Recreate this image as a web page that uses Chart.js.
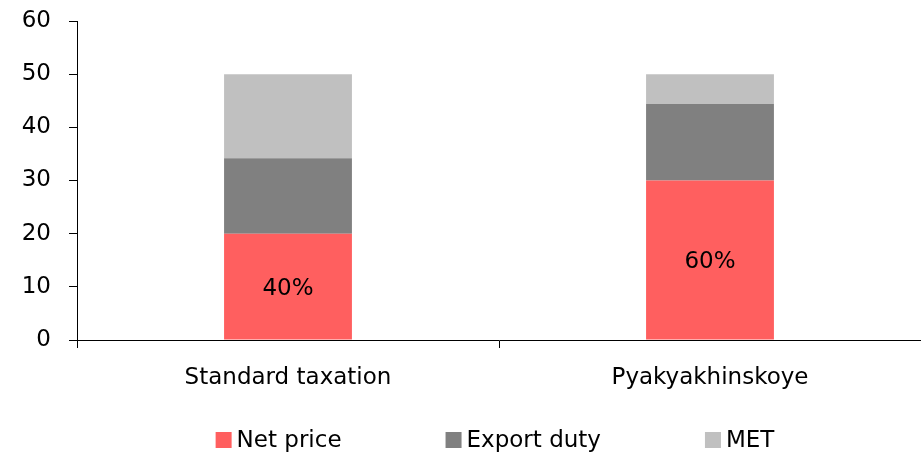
<!DOCTYPE html>
<html>
<head>
<meta charset="utf-8">
<script src="https://cdn.jsdelivr.net/npm/chart.js@4"></script>
<style>
  html, body { margin: 0; padding: 0; background: #fff; }
  #wrap { width: 921px; height: 454px; }
</style>
</head>
<body>
<div id="wrap"><canvas id="chart"></canvas></div>
<script>
const categories = ['Standard taxation', 'Pyakyakhinskoye'];
const netPrice = [20, 30];
const exportDuty = [14.2, 14.4];
const met = [15.8, 5.6];
const shareLabels = ['40%', '60%'];
const yTicks = [0, 10, 20, 30, 40, 50, 60];

const FONT = 'DejaVu Sans';

// percentage text in the middle of the net price segment
const shareLabelPlugin = {
    id: 'shareLabels',
    afterDatasetsDraw(chart) {
        const ctx = chart.ctx;
        const meta = chart.getDatasetMeta(0);
        ctx.save();
        ctx.font = '23px "' + FONT + '"';
        ctx.fillStyle = '#000';
        ctx.textAlign = 'center';
        ctx.textBaseline = 'middle';
        meta.data.forEach((bar, i) => {
            ctx.fillText(shareLabels[i], bar.x, (bar.y + bar.base) / 2 + 2);
        });
        ctx.restore();
    }
};

// legend with wide, even gaps like the original
const wideLegendPlugin = {
    id: 'wideLegend',
    afterDraw(chart) {
        const ctx = chart.ctx;
        const box = 16, gap = 5, spacing = 104;
        const y = 440;
        ctx.save();
        ctx.font = '23px "' + FONT + '"';
        const items = chart.data.datasets.map(ds => ({
            text: ds.label,
            color: ds.backgroundColor,
            w: box + gap + ctx.measureText(ds.label).width
        }));
        const total = items.reduce((s, it) => s + it.w, 0) + spacing * (items.length - 1);
        let x = 495 - total / 2;
        ctx.textBaseline = 'middle';
        ctx.textAlign = 'left';
        items.forEach(it => {
            ctx.fillStyle = it.color;
            ctx.fillRect(x, y - box / 2, box, box);
            ctx.fillStyle = '#000';
            ctx.fillText(it.text, x + box + gap, y + 1);
            x += it.w + spacing;
        });
        ctx.restore();
    }
};

const ctx = document.getElementById('chart').getContext('2d');

new Chart(ctx, {
    type: 'bar',
    data: {
        labels: categories,
        datasets: [
            { label: 'Net price', data: netPrice, backgroundColor: '#FF5F5F' },
            { label: 'Export duty', data: exportDuty, backgroundColor: '#808080' },
            { label: 'MET', data: met, backgroundColor: '#C0C0C0' }
        ]
    },
    options: {
        responsive: true,
        maintainAspectRatio: false,
        animation: false,
        layout: { padding: { top: 21, right: 0, bottom: 0, left: 0 } },
        datasets: {
            bar: { categoryPercentage: 1, barPercentage: 0.303, borderWidth: 0 }
        },
        plugins: {
            legend: { display: false },
            tooltip: { enabled: false }
        },
        scales: {
            x: {
                stacked: true,
                border: { color: '#000', width: 1 },
                grid: { drawOnChartArea: false, color: '#000', tickLength: 8, offset: true },
                ticks: { color: '#000', font: { family: FONT, size: 23 }, padding: 16 },
                afterFit(scale) {
                    scale.height = 114;
                    scale.paddingLeft = 0;
                    scale.paddingRight = 0;
                }
            },
            y: {
                stacked: true,
                min: 0,
                max: 60,
                border: { color: '#000', width: 1 },
                grid: { drawOnChartArea: false, color: '#000', tickLength: 8 },
                afterBuildTicks(scale) { scale.ticks = yTicks.map(v => ({ value: v })); },
                ticks: { color: '#000', font: { family: FONT, size: 23 }, padding: 18 },
                afterFit(scale) {
                    scale.width = 77;
                    scale.paddingTop = 0;
                    scale.paddingBottom = 0;
                }
            }
        }
    },
    plugins: [shareLabelPlugin, wideLegendPlugin]
});
</script>
</body>
</html>
